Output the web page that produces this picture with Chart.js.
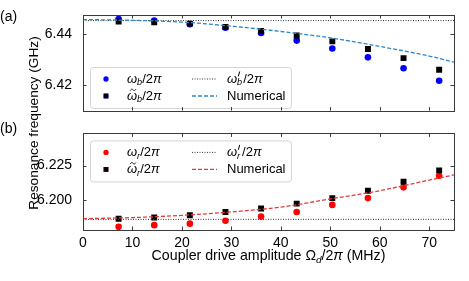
<!DOCTYPE html>
<html>
<head>
<meta charset="utf-8">
<script src="https://cdn.jsdelivr.net/npm/chart.js@4.4.0/dist/chart.umd.min.js"></script>
<style>
  html, body { margin: 0; padding: 0; background: #fff; width: 469px; height: 281px; overflow: hidden;
    font-family: "Liberation Sans", Arial, sans-serif; color: #000; }
  #top { position: absolute; left: 0; top: 0; width: 469px; height: 122px; }
  #bot { position: absolute; left: 0; top: 122px; width: 469px; height: 159px; }
  .lab { position: absolute; left: 0; font-size: 14px; line-height: 14px; }
  #ytitle { position: absolute; left: 33px; top: 123px; transform: translate(-50%, -50%) rotate(-90deg);
    white-space: nowrap; font-size: 13.7px; }
</style>
</head>
<body>
<div id="top"><canvas id="c1"></canvas></div>
<div id="bot"><canvas id="c2"></canvas></div>
<div class="lab" style="top:9px">(a)</div>
<div class="lab" style="top:121px">(b)</div>
<div id="ytitle">Resonance frequency (GHz)</div>
<script>
"use strict";
// drive amplitude of the measured points (MHz)
const drive = [7.2, 14.4, 21.6, 28.8, 36, 43.2, 50.4, 57.6, 64.8, 72];
// (a) bus / coupler-side mode (GHz)
const omegaB = [6.4459, 6.4453, 6.4439, 6.4425, 6.4404, 6.4374, 6.4343, 6.4308, 6.4265, 6.4216];
const omegaBTilde = [6.4449, 6.4446, 6.4441, 6.4428, 6.4412, 6.4394, 6.4371, 6.4341, 6.4305, 6.4259];
const omegaBPrime = 6.4453;
// (b) resonator mode (GHz)
const omegaR = [6.1806, 6.1818, 6.1829, 6.1850, 6.1880, 6.1913, 6.1965, 6.2014, 6.2092, 6.2176];
const omegaRTilde = [6.1865, 6.1874, 6.1890, 6.1914, 6.1939, 6.1974, 6.2014, 6.2068, 6.2133, 6.2215];
const omegaRPrime = 6.1860;
// numerical curves
const numX = [0, 10, 20, 30, 40, 50, 60, 70, 75];
const numB = [6.4457, 6.4454, 6.4447, 6.4431, 6.4410, 6.4385, 6.4351, 6.4313, 6.4289];
const numR = [6.1865, 6.1873, 6.1889, 6.1914, 6.1949, 6.2008, 6.2068, 6.2145, 6.2182];
// ticks
const xTicks = [0, 10, 20, 30, 40, 50, 60, 70];
const yTicksB = [6.42, 6.44];
const yTicksR = [6.200, 6.225];

const FONT = '"Liberation Sans", Arial, sans-serif';

// little rich-text painter for the math labels
function fontFor(kind, size) {
  const it = (kind === "i" || kind === "sub" || kind === "tilde" || kind === "psub") ? "italic " : "";
  const s = (kind === "sub") ? size * 0.7 : size;
  return it + s + "px " + FONT;
}
function partWidth(ctx, p, size) {
  if (p[1] === "psub") {
    ctx.font = "italic " + size + "px " + FONT;
    const w0 = ctx.measureText("ω").width;
    ctx.font = "italic " + (size * 0.7) + "px " + FONT;
    return w0 + Math.max(4, ctx.measureText(p[0]).width) + 1;
  }
  ctx.font = fontFor(p[1], size);
  return ctx.measureText(p[0]).width;
}
function drawRich(ctx, parts, x, y, size, align) {
  let total = 0;
  parts.forEach(p => total += partWidth(ctx, p, size));
  let cx = align === "center" ? x - total / 2 : x;
  ctx.save();
  ctx.fillStyle = "#000";
  ctx.strokeStyle = "#000";
  ctx.textBaseline = "middle";
  ctx.textAlign = "left";
  parts.forEach(p => {
    const w = partWidth(ctx, p, size);
    if (p[1] === "sub") {
      ctx.font = fontFor("sub", size);
      ctx.fillText(p[0], cx, y + size * 0.3);
    } else if (p[1] === "tilde") {
      ctx.font = fontFor("i", size);
      ctx.fillText(p[0], cx, y);
      // small wave above the letter
      const tx = cx + w / 2 + 1, ty = y - size * 0.47, hw = size * 0.22;
      ctx.lineWidth = 0.9;
      ctx.beginPath();
      ctx.moveTo(tx - hw, ty + 0.8);
      ctx.bezierCurveTo(tx - hw * 0.5, ty - 1.6, tx - hw * 0.2, ty - 0.8, tx, ty);
      ctx.bezierCurveTo(tx + hw * 0.2, ty + 0.8, tx + hw * 0.5, ty + 1.6, tx + hw, ty - 0.8);
      ctx.stroke();
    } else if (p[1] === "psub") {
      ctx.font = "italic " + size + "px " + FONT;
      ctx.fillText("ω", cx, y);
      const w0 = ctx.measureText("ω").width;
      ctx.lineWidth = 1;
      ctx.beginPath();
      ctx.moveTo(cx + w0 + 2.6, y - size * 0.58);
      ctx.lineTo(cx + w0 + 1.2, y - size * 0.2);
      ctx.stroke();
      ctx.font = "italic " + (size * 0.7) + "px " + FONT;
      ctx.fillText(p[0], cx + w0, y + size * 0.3);
    } else {
      ctx.font = fontFor(p[1], size);
      ctx.fillText(p[0], cx, y);
    }
    cx += w;
  });
  ctx.restore();
}

// frame with matplotlib-like inward ticks on all four sides
const frameTicks = {
  id: "frameTicks",
  afterDraw(chart) {
    const ctx = chart.ctx, a = chart.chartArea;
    const xs = chart.scales.x, ys = chart.scales.y;
    ctx.save();
    ctx.strokeStyle = "#3a3a3a";
    ctx.lineWidth = 1;
    ctx.beginPath();
    xs.ticks.forEach(t => {
      const px = Math.round(xs.getPixelForValue(t.value)) + 0.5;
      if (px <= a.left + 1 || px >= a.right - 1) return;
      ctx.moveTo(px, a.bottom); ctx.lineTo(px, a.bottom - 3.5);
      ctx.moveTo(px, a.top); ctx.lineTo(px, a.top + 3.5);
    });
    ys.ticks.forEach(t => {
      const py = Math.round(ys.getPixelForValue(t.value)) + 0.5;
      ctx.moveTo(a.left, py); ctx.lineTo(a.left + 3.5, py);
      ctx.moveTo(a.right, py); ctx.lineTo(a.right - 3.5, py);
    });
    ctx.stroke();
    ctx.strokeRect(Math.round(a.left) + 0.5, Math.round(a.top) + 0.5,
      Math.round(a.right - a.left), Math.round(a.bottom - a.top));
    ctx.restore();
  }
};

// two-column boxed legend drawn inside the plot area
function boxLegend(items, offY) {
  return {
    id: "boxLegend",
    afterDatasetsDraw(chart) {
      const ctx = chart.ctx, a = chart.chartArea;
      const bx = a.left + 7, by = a.top + offY, bw = 201, bh = 41;
      ctx.save();
      ctx.fillStyle = "rgba(255,255,255,0.85)";
      ctx.strokeStyle = "#d4d4d4";
      ctx.lineWidth = 1;
      ctx.beginPath();
      ctx.roundRect(bx + 0.5, by + 0.5, bw, bh, 3);
      ctx.fill();
      ctx.stroke();
      items.forEach((it, i) => {
        const ds = chart.data.datasets[it.ds];
        const col = Math.floor(i / 2), row = i % 2;
        const ry = by + 12 + row * 17;
        if (col === 0) {
          Chart.helpers.drawPoint(ctx, {
            pointStyle: ds.pointStyle, radius: ds.pointRadius * 0.8, rotation: 0, borderWidth: 0
          }, bx + 16, ry);
          ctx.fillStyle = ds.backgroundColor;
          ctx.fill();
          drawRich(ctx, it.label, bx + 37, ry, 13, "left");
        } else {
          ctx.beginPath();
          ctx.strokeStyle = ds.borderColor;
          ctx.lineWidth = ds.borderWidth;
          ctx.setLineDash(ds.borderDash);
          ctx.moveTo(bx + 102, ry); ctx.lineTo(bx + 127, ry);
          ctx.stroke();
          ctx.setLineDash([]);
          drawRich(ctx, it.label, bx + 137, ry, 13, "left");
        }
      });
      ctx.restore();
    }
  };
}

const xTitle = {
  id: "xTitle",
  afterDraw(chart) {
    const a = chart.chartArea;
    drawRich(chart.ctx, [["Coupler drive amplitude ", "n"], ["Ω", "n"], ["d", "sub"], ["/2", "n"],
      ["π", "i"], [" (MHz)", "n"]], (a.left + a.right) / 2, a.bottom + 26, 14.2, "center");
  }
};

function pts(xs, ys) { return xs.map((x, i) => ({ x: x, y: ys[i] })); }

function makeDatasets(meas, tilde, prime, num, dotColor, numColor) {
  return [
    { data: pts(drive, meas), showLine: false, pointStyle: "circle", pointRadius: 3.3,
      backgroundColor: dotColor, borderWidth: 0, order: 3 },
    { data: pts(drive, tilde), showLine: false, pointStyle: "rect", pointRadius: 4.2,
      backgroundColor: "#000", borderWidth: 0, order: 2 },
    { data: [{ x: 0, y: prime }, { x: 75, y: prime }], showLine: true, pointRadius: 0,
      borderColor: "#333", borderWidth: 1, borderDash: [1, 1.5], order: 1 },
    { data: pts(numX, num), showLine: true, pointRadius: 0, borderColor: numColor,
      borderWidth: 1.3, borderDash: [4, 2], cubicInterpolationMode: "monotone", order: 0 }
  ];
}

function makePanel(canvas, datasets, yMin, yMax, yTicks, decimals, bottom, plugins, padding) {
  return new Chart(canvas, {
    type: "scatter",
    data: { datasets: datasets },
    options: {
      responsive: true,
      maintainAspectRatio: false,
      animation: false,
      events: [],
      layout: { padding: padding },
      plugins: { legend: { display: false }, tooltip: { enabled: false } },
      scales: {
        x: {
          type: "linear", min: 0, max: 75,
          afterBuildTicks: s => { s.ticks = xTicks.map(v => ({ value: v })); },
          afterFit: s => { s.height = bottom ? 51 : 0; },
          grid: { display: false },
          border: { display: false },
          ticks: { display: bottom, padding: -3, color: "#000", font: { family: FONT, size: 14 } }
        },
        y: {
          min: yMin, max: yMax,
          afterBuildTicks: s => { s.ticks = yTicks.map(v => ({ value: v })); },
          afterFit: s => { s.width = 83; },
          grid: { display: false },
          border: { display: false },
          ticks: { padding: 3, color: "#000", font: { family: FONT, size: 14 },
            callback: v => Number(v).toFixed(decimals) }
        }
      }
    },
    plugins: plugins
  });
}

const legendB = [
  { ds: 0, label: [["ω", "i"], ["b", "sub"], ["/2", "n"], ["π", "i"]] },
  { ds: 1, label: [["ω", "tilde"], ["b", "sub"], ["/2", "n"], ["π", "i"]] },
  { ds: 2, label: [["b", "psub"], ["/2", "n"], ["π", "i"]] },
  { ds: 3, label: [["Numerical", "n"]] }
];
const legendR = [
  { ds: 0, label: [["ω", "i"], ["r", "sub"], ["/2", "n"], ["π", "i"]] },
  { ds: 1, label: [["ω", "tilde"], ["r", "sub"], ["/2", "n"], ["π", "i"]] },
  { ds: 2, label: [["r", "psub"], ["/2", "n"], ["π", "i"]] },
  { ds: 3, label: [["Numerical", "n"]] }
];

makePanel(document.getElementById("c1"),
  makeDatasets(omegaB, omegaBTilde, omegaBPrime, numB, "#0000ff", "#2f86c6"),
  6.4098, 6.4475, yTicksB, 2, false,
  [boxLegend(legendB, 52), frameTicks],
  { top: 15, right: 15, bottom: 7, left: 0 });

makePanel(document.getElementById("c2"),
  makeDatasets(omegaR, omegaRTilde, omegaRPrime, numR, "#ff0000", "#e23a3a"),
  6.1783, 6.2483, yTicksR, 3, true,
  [boxLegend(legendR, 7), frameTicks, xTitle],
  { top: 8, right: 15, bottom: 0, left: 0 });
</script>
</body>
</html>
